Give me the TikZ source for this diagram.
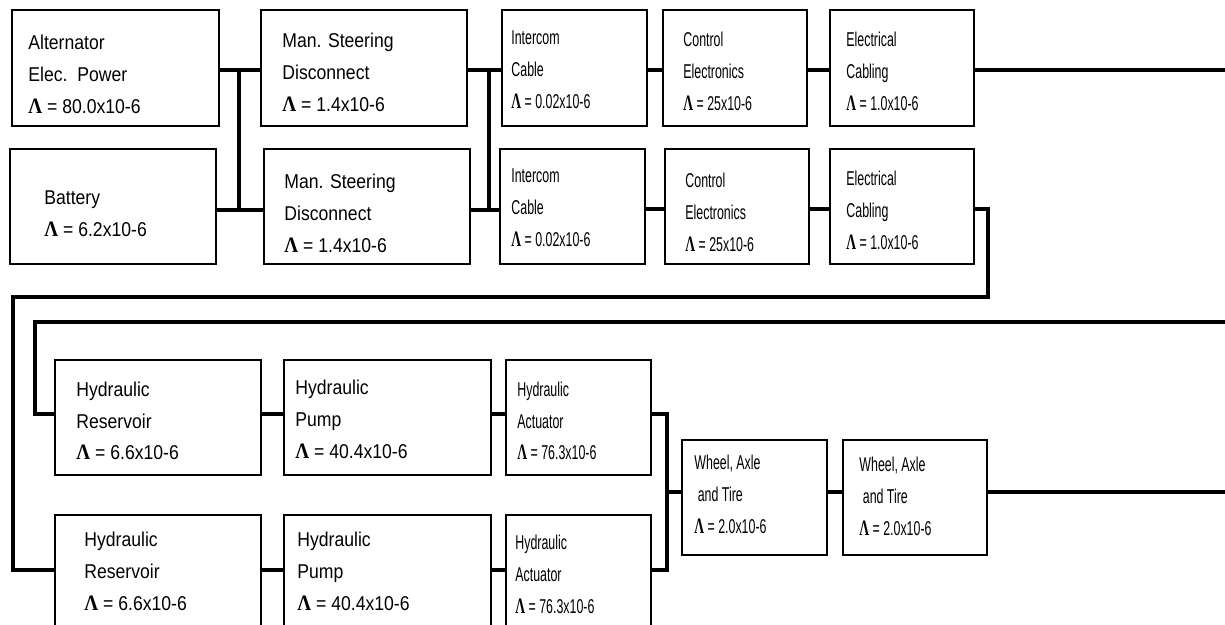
\documentclass[tikz,border=0pt]{standalone}
\usepackage{fontspec}
\setmainfont{Liberation Sans}
\newfontfamily\lamfont{Liberation Serif}
\usetikzlibrary{fit,backgrounds}
% failure-rate symbol
\newcommand{\lam}{{\lamfont\bfseries\fontsize{11}{16}\selectfont Λ}}
% left-aligned block of lines, squeezed horizontally by #1
\newcommand{\blines}[2]{\scalebox{#1}[1]{\begin{tabular}[t]{@{}l@{}}#2\end{tabular}}}
\begin{document}
\begin{tikzpicture}[x=0.5pt,y=-0.5pt,
  box/.style={draw,line width=1.1pt,fill=white,inner sep=0pt},
  wire/.style={line width=2.3pt,line cap=rect,line join=miter},
  txt/.style={anchor=base west,inner sep=0pt,font=\fontsize{10}{16}\selectfont}]
\useasboundingbox (0,0) rectangle (1225,625);
\clip (0,0) rectangle (1225,625);

% blocks
\node[box,fit={(12,10) (219,126)}] (alt) {};
\node[box,fit={(10,149) (216,264)}] (bat) {};
\node[box,fit={(261,10) (467,126)}] (ms1) {};
\node[box,fit={(264,149) (470,264)}] (ms2) {};
\node[box,fit={(502,10) (647,126)}] (ic1) {};
\node[box,fit={(500,149) (645,264)}] (ic2) {};
\node[box,fit={(663,10) (807,126)}] (ce1) {};
\node[box,fit={(665,149) (809,264)}] (ce2) {};
\node[box,fit={(830,10) (974,126)}] (ec1) {};
\node[box,fit={(830,149) (974,264)}] (ec2) {};
\node[box,fit={(55,360) (261,475)}] (hr1) {};
\node[box,fit={(284,360) (491,475)}] (hp1) {};
\node[box,fit={(506,360) (651,475)}] (ha1) {};
\node[box,fit={(55,515) (261,630)}] (hr2) {};
\node[box,fit={(284,515) (491,630)}] (hp2) {};
\node[box,fit={(506,515) (651,630)}] (ha2) {};
\node[box,fit={(682,440) (827,555)}] (wh1) {};
\node[box,fit={(843,440) (987,555)}] (wh2) {};

% labels
\node[txt] (altT) at (28,50) {\blines{0.88}{Alternator\\Elec.\ \ Power\\\lam{} = 80.0x10-6}};
\node[txt] (batT) at (44,205) {\blines{0.88}{Battery\\\lam{} = 6.2x10-6}};
\node[txt] (ms1T) at (282,48) {\blines{0.88}{Man. Steering\\Disconnect\\\lam{} = 1.4x10-6}};
\node[txt] (ms2T) at (284,189) {\blines{0.88}{Man. Steering\\Disconnect\\\lam{} = 1.4x10-6}};
\node[txt] (ic1T) at (511,45) {\blines{0.62}{Intercom\\Cable\\\lam{} = 0.02x10-6}};
\node[txt] (ic2T) at (511,183) {\blines{0.62}{Intercom\\Cable\\\lam{} = 0.02x10-6}};
\node[txt] (ce1T) at (683,47) {\blines{0.62}{Control\\Electronics\\\lam{} = 25x10-6}};
\node[txt] (ce2T) at (685,188) {\blines{0.62}{Control\\Electronics\\\lam{} = 25x10-6}};
\node[txt] (ec1T) at (846,47) {\blines{0.62}{Electrical\\Cabling\\\lam{} = 1.0x10-6}};
\node[txt] (ec2T) at (846,186) {\blines{0.62}{Electrical\\Cabling\\\lam{} = 1.0x10-6}};
\node[txt] (hr1T) at (76,396) {\blines{0.88}{Hydraulic\\Reservoir\\\lam{} = 6.6x10-6}};
\node[txt] (hp1T) at (295,394) {\blines{0.88}{Hydraulic\\Pump\\\lam{} = 40.4x10-6}};
\node[txt] (ha1T) at (517,396) {\blines{0.62}{Hydraulic\\Actuator\\\lam{} = 76.3x10-6}};
\node[txt] (hr2T) at (84,546) {\blines{0.88}{Hydraulic\\Reservoir\\\lam{} = 6.6x10-6}};
\node[txt] (hp2T) at (297,546) {\blines{0.88}{Hydraulic\\Pump\\\lam{} = 40.4x10-6}};
\node[txt] (ha2T) at (515,549) {\blines{0.62}{Hydraulic\\Actuator\\\lam{} = 76.3x10-6}};
\node[txt] (wh1T) at (694,469) {\blines{0.62}{Wheel, Axle\\\ and Tire\\\lam{} = 2.0x10-6}};
\node[txt] (wh2T) at (859,471) {\blines{0.62}{Wheel, Axle\\\ and Tire\\\lam{} = 2.0x10-6}};

% junction and routing points
\coordinate (j1t) at (239,70);
\coordinate (j1b) at (239,210);
\coordinate (j2t) at (489,70);
\coordinate (j2b) at (489,210);
\coordinate (outA) at (1225,70);
\coordinate (turnA) at (988,209);
\coordinate (turnB) at (988,297);
\coordinate (turnC) at (13,297);
\coordinate (turnD) at (13,570);
\coordinate (inB) at (1225,322);
\coordinate (turnE) at (35,322);
\coordinate (turnF) at (35,414);
\coordinate (j3t) at (667,414);
\coordinate (j3b) at (667,570);
\coordinate (j3m) at (667,492);
\coordinate (outB) at (1225,492);

\begin{scope}[on background layer]
  % electrical supply stage
  \draw[wire] (alt.east |- j1t) -- (j1t) -- (j1b) -- (bat.east |- j1b);
  \draw[wire] (j1t) -- (ms1.west |- j1t);
  \draw[wire] (j1b) -- (ms2.west |- j1b);
  \draw[wire] (ms1.east |- j2t) -- (j2t) -- (j2b) -- (ms2.east |- j2b);
  \draw[wire] (j2t) -- (ic1.west |- j2t);
  \draw[wire] (j2b) -- (ic2.west |- j2b);
  % upper electrical path
  \draw[wire] (ic1.east |- j2t) -- (ce1.west |- j2t);
  \draw[wire] (ce1.east |- j2t) -- (ec1.west |- j2t);
  \draw[wire] (ec1.east |- outA) -- (outA);
  % lower electrical path, routed down to the lower hydraulic branch
  \draw[wire] (ic2.east |- turnA) -- (ce2.west |- turnA);
  \draw[wire] (ce2.east |- turnA) -- (ec2.west |- turnA);
  \draw[wire] (ec2.east |- turnA) -- (turnA) -- (turnB) -- (turnC) -- (turnD) -- (hr2.west |- turnD);
  % return from the upper path into the upper hydraulic branch
  \draw[wire] (inB) -- (turnE) -- (turnF) -- (hr1.west |- turnF);
  % hydraulic branches
  \draw[wire] (hr1.east |- turnF) -- (hp1.west |- turnF);
  \draw[wire] (hp1.east |- turnF) -- (ha1.west |- turnF);
  \draw[wire] (hr2.east |- turnD) -- (hp2.west |- turnD);
  \draw[wire] (hp2.east |- turnD) -- (ha2.west |- turnD);
  \draw[wire] (ha1.east |- j3t) -- (j3t) -- (j3b) -- (ha2.east |- j3b);
  % wheels
  \draw[wire] (j3m) -- (wh1.west |- j3m);
  \draw[wire] (wh1.east |- j3m) -- (wh2.west |- j3m);
  \draw[wire] (wh2.east |- j3m) -- (outB);
\end{scope}
\end{tikzpicture}
\end{document}
